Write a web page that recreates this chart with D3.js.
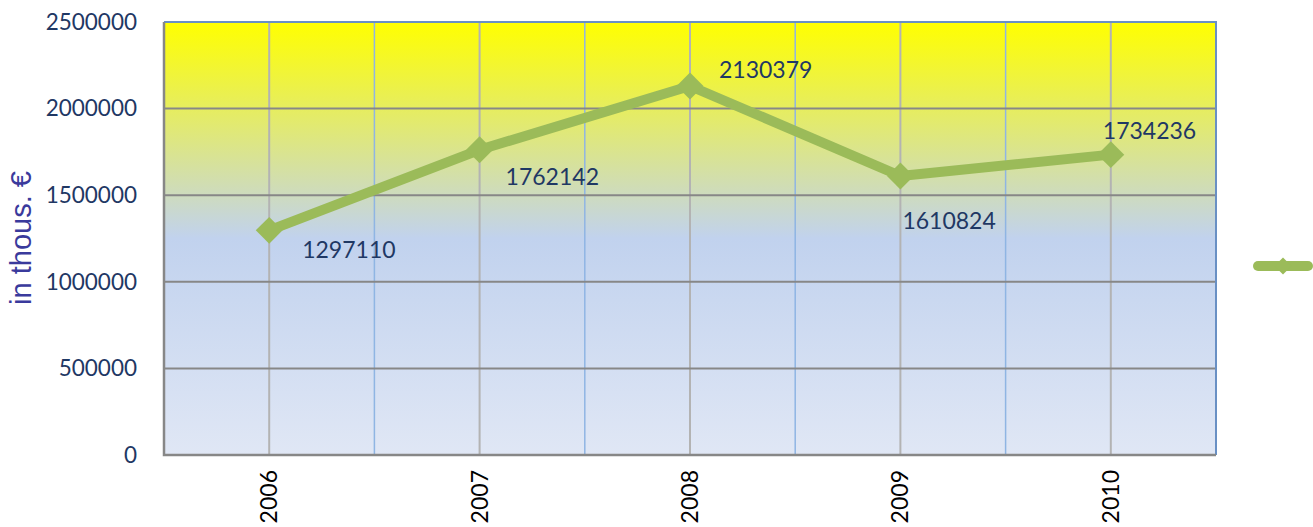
<!DOCTYPE html>
<html>
<head>
<meta charset="utf-8">
<script src="https://cdn.jsdelivr.net/npm/d3@7"></script>
<style>
  body { margin: 0; background: #fff; }
  text { font-family: Lato, "Open Sans", sans-serif; }
</style>
</head>
<body>
<div id="chart"></div>
<script>
const years = ["2006", "2007", "2008", "2009", "2010"];
const values = [1297110, 1762142, 2130379, 1610824, 1734236];
const yTicks = [0, 500000, 1000000, 1500000, 2000000, 2500000];
// hand-placed label offsets (dx to left edge, dy to middle), as in the original
const labelOffsets = [[33, 20], [26, 27], [29, -16], [2, 45], [-8, -24]];

const width = 1313;
const height = 527;
const plot = { left: 164, right: 1216, top: 22, bottom: 455 };

const svg = d3.select('#chart').append('svg')
    .attr('width', width)
    .attr('height', height);

const grad = svg.append('defs').append('linearGradient')
    .attr('id', 'bg')
    .attr('x1', 0).attr('y1', 0).attr('x2', 0).attr('y2', 1);
grad.append('stop').attr('offset', '0%').attr('stop-color', '#ffff00');
grad.append('stop').attr('offset', '50%').attr('stop-color', '#c1d2ee');
grad.append('stop').attr('offset', '100%').attr('stop-color', '#e0e7f5');

const x = d3.scaleBand()
    .domain(years)
    .range([plot.left, plot.right]);

const y = d3.scaleLinear()
    .domain([0, 2500000])
    .range([plot.bottom, plot.top]);

svg.append('rect')
    .attr('x', plot.left)
    .attr('y', plot.top)
    .attr('width', plot.right - plot.left)
    .attr('height', plot.bottom - plot.top)
    .style('fill', 'url(#bg)');

// vertical grid: category boundaries (blue) and centres (gray)
svg.selectAll('.vb')
    .data(years.slice(1))
    .enter().append('line')
    .attr('x1', d => x(d)).attr('x2', d => x(d))
    .attr('y1', plot.top).attr('y2', plot.bottom)
    .style('stroke', '#8fb5e3')
    .style('stroke-width', 1.5);

svg.selectAll('.vc')
    .data(years)
    .enter().append('line')
    .attr('x1', d => x(d) + x.bandwidth() / 2).attr('x2', d => x(d) + x.bandwidth() / 2)
    .attr('y1', plot.top).attr('y2', plot.bottom)
    .style('stroke', '#b3b3b3')
    .style('stroke-width', 2);

// horizontal grid
svg.selectAll('.hg')
    .data(yTicks.slice(1, -1))
    .enter().append('line')
    .attr('x1', plot.left).attr('x2', plot.right)
    .attr('y1', d => y(d)).attr('y2', d => y(d))
    .style('stroke', '#878787')
    .style('stroke-width', 2);

// borders
svg.append('path')
    .attr('d', `M${plot.left},${plot.top}H${plot.right}V${plot.bottom}`)
    .style('fill', 'none')
    .style('stroke', '#6990c4')
    .style('stroke-width', 2);
svg.append('path')
    .attr('d', `M${plot.left},${plot.top}V${plot.bottom}H${plot.right}`)
    .style('fill', 'none')
    .style('stroke', '#878787')
    .style('stroke-width', 2.5);

// y axis labels
const yAxis = svg.append('g')
    .attr('transform', `translate(${plot.left - 27},0)`)
    .call(d3.axisLeft(y).tickValues(yTicks).tickSize(0).tickPadding(0).tickFormat(d3.format('d')));
yAxis.select('.domain').remove();
yAxis.selectAll('text')
    .style('font-size', '22.5px')
    .style('font-family', 'Lato, sans-serif')
    .style('fill', '#1f3864');

// x axis labels, rotated
const xAxis = svg.append('g')
    .attr('transform', `translate(0,${plot.bottom})`)
    .call(d3.axisBottom(x).tickSize(0).tickPadding(0));
xAxis.select('.domain').remove();
xAxis.selectAll('text')
    .attr('transform', 'rotate(-90)')
    .attr('x', -15)
    .attr('y', 0)
    .attr('dy', '0.35em')
    .style('text-anchor', 'end')
    .style('font-size', '23px')
    .style('font-family', 'Lato, sans-serif')
    .style('fill', '#000');

// y title
svg.append('text')
    .attr('transform', `translate(31,238) rotate(-90)`)
    .style('text-anchor', 'middle')
    .style('font-family', '"Liberation Sans", Arial, sans-serif')
    .style('font-size', '29px')
    .style('fill', '#3a3a9c')
    .text('in thous. €');

// series line
const cx = (d, i) => x(years[i]) + x.bandwidth() / 2;
const line = d3.line()
    .x(cx)
    .y(d => y(d));

svg.append('path')
    .datum(values)
    .attr('d', line)
    .style('fill', 'none')
    .style('stroke', '#9bbb59')
    .style('stroke-width', 10)
    .style('stroke-linejoin', 'round');

svg.selectAll('.marker')
    .data(values)
    .enter().append('rect')
    .attr('x', -9.5).attr('y', -9.5)
    .attr('width', 19).attr('height', 19)
    .attr('transform', (d, i) => `translate(${cx(d, i)},${y(d)}) rotate(45)`)
    .style('fill', '#9bbb59');

svg.selectAll('.dlabel')
    .data(values)
    .enter().append('text')
    .attr('x', (d, i) => cx(d, i) + labelOffsets[i][0])
    .attr('y', (d, i) => y(d) + labelOffsets[i][1])
    .attr('dy', '0.35em')
    .style('font-size', '23px')
    .style('fill', '#1f3864')
    .text(d => d);

// legend (series has no name)
const legend = svg.append('g')
    .attr('transform', 'translate(1283,266)');
legend.append('line')
    .attr('x1', -25).attr('x2', 25)
    .style('stroke', '#9bbb59')
    .style('stroke-width', 10)
    .style('stroke-linecap', 'round');
legend.append('rect')
    .attr('x', -6).attr('y', -6)
    .attr('width', 12).attr('height', 12)
    .attr('transform', 'rotate(45)')
    .style('fill', '#9bbb59');
</script>
</body>
</html>
